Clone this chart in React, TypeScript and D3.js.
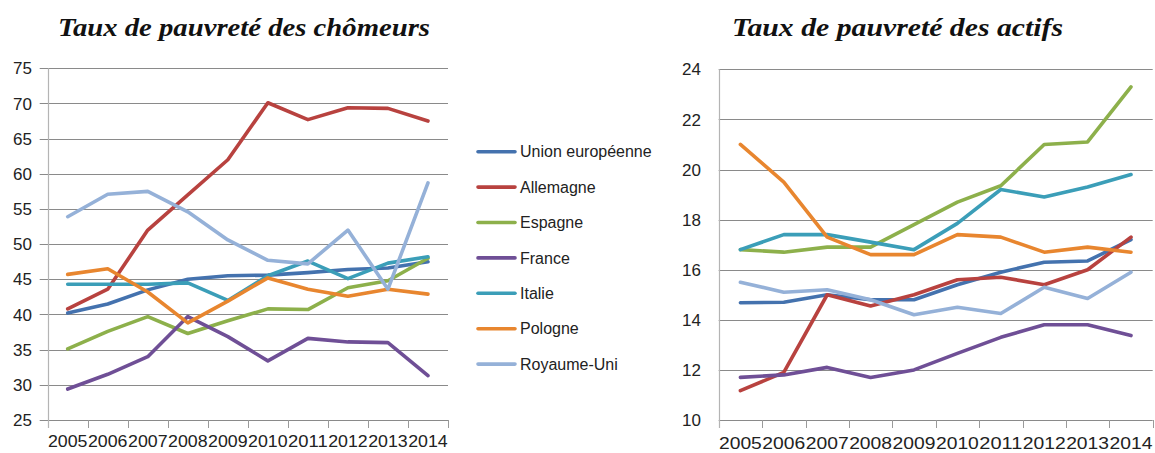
import React, { useEffect, useRef } from 'react';
import * as d3 from 'd3';

const years = ["2005", "2006", "2007", "2008", "2009", "2010", "2011", "2012", "2013", "2014"];
const seriesNames = ["Union européenne", "Allemagne", "Espagne", "France", "Italie", "Pologne", "Royaume-Uni"];
const seriesColors = ["#4472AE", "#B8423F", "#8DB04B", "#6F4F96", "#3B9EB8", "#E8862F", "#95B1D8"];

// taux de pauvreté des chômeurs
const chomUE = [40.2, 41.5, 43.5, 45.0, 45.5, 45.6, 45.95, 46.4, 46.6, 47.5];
const chomAllemagne = [40.8, 43.6, 52.0, 57.0, 62.0, 70.1, 67.7, 69.4, 69.3, 67.5];
const chomEspagne = [35.1, 37.6, 39.7, 37.3, 39.1, 40.8, 40.7, 43.8, 44.8, 48.0];
const chomFrance = [29.4, 31.5, 34.0, 39.7, 36.85, 33.4, 36.6, 36.1, 36.0, 31.3];
const chomItalie = [44.3, 44.3, 44.3, 44.5, 42.0, 45.5, 47.6, 45.1, 47.3, 48.2];
const chomPologne = [45.7, 46.5, 43.2, 38.8, 41.9, 45.2, 43.6, 42.6, 43.6, 42.9];
const chomRU = [53.9, 57.1, 57.5, 54.6, 50.6, 47.7, 47.2, 52.0, 43.6, 58.7];

// taux de pauvreté des actifs
const actUE = [14.68, 14.7, 15.0, 14.8, 14.8, 15.4, 15.9, 16.3, 16.35, 17.2];
const actAllemagne = [11.17, 11.9, 15.0, 14.55, 15.0, 15.6, 15.7, 15.4, 16.0, 17.3];
const actEspagne = [16.8, 16.7, 16.9, 16.9, 17.8, 18.7, 19.35, 21.0, 21.1, 23.3];
const actFrance = [11.7, 11.8, 12.1, 11.7, 12.0, 12.66, 13.3, 13.8, 13.8, 13.37];
const actItalie = [16.8, 17.4, 17.4, 17.1, 16.8, 17.85, 19.2, 18.9, 19.3, 19.8];
const actPologne = [21.0, 19.5, 17.3, 16.6, 16.6, 17.4, 17.3, 16.7, 16.9, 16.7];
const actRU = [15.5, 15.1, 15.2, 14.8, 14.2, 14.5, 14.25, 15.3, 14.85, 15.9];

const chomTicks = [25, 30, 35, 40, 45, 50, 55, 60, 65, 70, 75];
const actTicks = [10, 12, 14, 16, 18, 20, 22, 24];

const App = () => {
    const ref = useRef<SVGSVGElement | null>(null);

    useEffect(() => {
        const svg = d3.select(ref.current);
        svg.selectAll("*").remove();

        const drawPanel = (opts: any) => {
            const { left, right, top, bottom, domain, ticks, data, title, titleX, titleLen, labelX, sideTicks, xFont } = opts;
            const x = d3.scaleBand().domain(years).range([left, right]).padding(0);
            const y = d3.scaleLinear().domain(domain).range([bottom, top]);
            const g = svg.append("g");

            // gridlines
            g.selectAll(".grid")
                .data(ticks)
                .enter()
                .append("line")
                .attr("x1", sideTicks ? left - 8 : left)
                .attr("x2", right)
                .attr("y1", (d: number) => Math.round(y(d)) + 0.5)
                .attr("y2", (d: number) => Math.round(y(d)) + 0.5)
                .attr("stroke", "#8a8a8a")
                .attr("stroke-width", 1);

            // y axis line
            g.append("line")
                .attr("x1", Math.round(left) + 0.5).attr("x2", Math.round(left) + 0.5)
                .attr("y1", top).attr("y2", bottom + 8)
                .attr("stroke", "#b4b4b4").attr("stroke-width", 1.2);

            // x tick marks
            const edges = years.map(d => x(d) as number).concat([right]);
            g.selectAll(".xt")
                .data(edges.slice(1))
                .enter()
                .append("line")
                .attr("x1", (d: number) => Math.round(d) + 0.5)
                .attr("x2", (d: number) => Math.round(d) + 0.5)
                .attr("y1", bottom).attr("y2", bottom + 8)
                .attr("stroke", "#9a9a9a");

            // y labels
            g.selectAll(".yl")
                .data(ticks)
                .enter()
                .append("text")
                .attr("x", labelX)
                .attr("y", (d: number) => y(d))
                .attr("dy", "0.36em")
                .attr("text-anchor", "end")
                .attr("font-family", "Liberation Sans, Arial, sans-serif")
                .attr("font-size", 17)
                .attr("fill", "#222")
                .text((d: number) => d);

            // x labels
            g.selectAll(".xl")
                .data(years)
                .enter()
                .append("text")
                .attr("x", (d: string) => (x(d) as number) + x.bandwidth() / 2)
                .attr("y", opts.xLabelY)
                .attr("text-anchor", "middle")
                .attr("font-family", "Liberation Sans, Arial, sans-serif")
                .attr("font-size", xFont)
                .attr("fill", "#222")
                .attr("textLength", x.bandwidth() - 0.5)
                .attr("lengthAdjust", "spacingAndGlyphs")
                .text((d: string) => d);

            const line = d3.line<number>()
                .x((d, i) => (x(years[i]) as number) + x.bandwidth() / 2)
                .y(d => y(d));

            data.forEach((vals: number[], i: number) => {
                g.append("path")
                    .attr("d", line(vals))
                    .attr("fill", "none")
                    .attr("stroke", seriesColors[i])
                    .attr("stroke-width", 3.6)
                    .attr("stroke-linejoin", "round")
                    .attr("stroke-linecap", "round");
            });

            g.append("text")
                .attr("x", titleX)
                .attr("y", 36)
                .attr("font-family", "Liberation Serif, 'DejaVu Serif', serif")
                .attr("font-style", "italic")
                .attr("font-weight", "bold")
                .attr("font-size", 26)
                .attr("fill", "#111")
                .attr("textLength", titleLen)
                .attr("lengthAdjust", "spacingAndGlyphs")
                .text(title);
        };

        drawPanel({
            left: 47.7, right: 448, top: 68.3, bottom: 420,
            domain: [25, 75], ticks: chomTicks,
            data: [chomUE, chomAllemagne, chomEspagne, chomFrance, chomItalie, chomPologne, chomRU],
            title: "Taux de pauvreté des chômeurs", titleX: 58, titleLen: 372,
            labelX: 32, sideTicks: true, xFont: 17, xLabelY: 447
        });

        drawPanel({
            left: 718.7, right: 1152.7, top: 69.3, bottom: 420,
            domain: [10, 24], ticks: actTicks,
            data: [actUE, actAllemagne, actEspagne, actFrance, actItalie, actPologne, actRU],
            title: "Taux de pauvreté des actifs", titleX: 732, titleLen: 331,
            labelX: 701, sideTicks: false, xFont: 17, xLabelY: 449
        });

        // legend
        const lg = svg.append("g");
        seriesNames.forEach((name, i) => {
            const ly = 151.7 + i * 35.4;
            lg.append("line")
                .attr("x1", 478).attr("x2", 515)
                .attr("y1", ly).attr("y2", ly)
                .attr("stroke", seriesColors[i])
                .attr("stroke-width", 3.6)
                .attr("stroke-linecap", "round");
            lg.append("text")
                .attr("x", 520)
                .attr("y", ly)
                .attr("dy", "0.36em")
                .attr("font-family", "Liberation Sans, Arial, sans-serif")
                .attr("font-size", 16)
                .attr("fill", "#222")
                .text(name);
        });
    }, []);

    return (
        <svg ref={ref} width={1155} height={453}
            style={{ position: 'absolute', left: 0, top: 0, background: '#fff' }} />
    );
};

export default App;
